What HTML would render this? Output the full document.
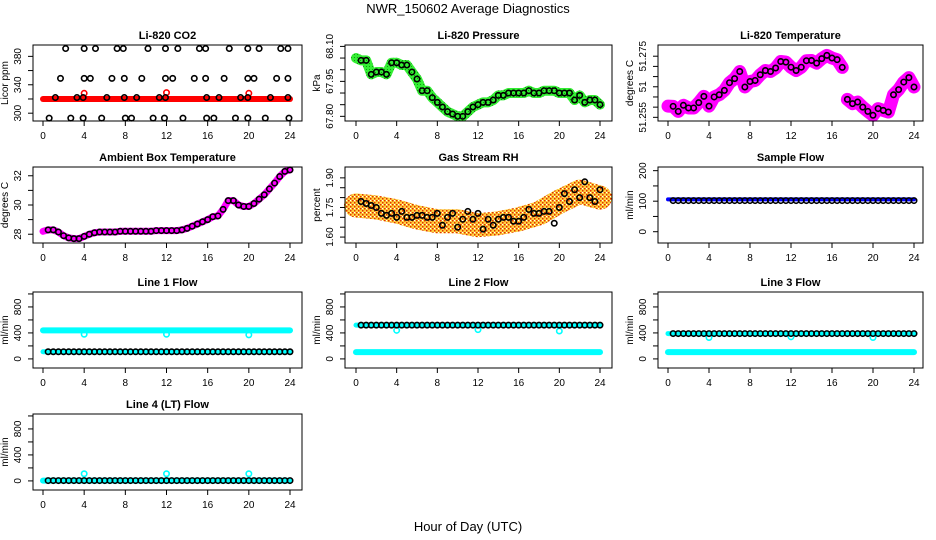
<!DOCTYPE html>
<html><head><meta charset="utf-8"><style>
html,body{margin:0;padding:0;background:#fff;}
svg{display:block;font-family:"Liberation Sans",sans-serif;}
</style></head><body>
<svg id="c" width="936" height="540" viewBox="0 0 936 540">
<defs>
<pattern id="rhpat" width="4" height="4" patternUnits="userSpaceOnUse"><rect width="4" height="4" fill="#ffd040"/><rect x="0" y="0" width="1.5" height="1.5" fill="#e03000"/><rect x="2" y="2" width="1.5" height="1.5" fill="#e03000"/><rect x="2" y="0" width="1" height="1" fill="#fff"/></pattern>
<pattern id="prpat" width="3" height="3" patternUnits="userSpaceOnUse"><rect width="3" height="3" fill="#33ee33"/><rect width="1" height="1" fill="#119911"/></pattern>
</defs>
<text x="468" y="13" text-anchor="middle" font-size="13">NWR_150602  Average Diagnostics</text>
<text x="468" y="531" text-anchor="middle" font-size="13">Hour of Day (UTC)</text>
</svg>
<script>
// ---- data ----
const hours = [];
for (let i = 1; i <= 48; i++) hours.push(i * 0.5);
const xTicks = [0, 4, 8, 12, 16, 20, 24];

const co2Hours = [2.2,4,5.1,7.2,7.8,10.2,11.9,13.1,15.2,15.8,18.1,19.9,21,23.1,23.8,
  1.7,4,4.6,6.7,7.9,9.6,11.9,12.6,14.7,15.8,17.6,19.9,20.5,22.7,23.8,
  1.2,3.3,3.9,6.2,7.9,9.1,11.3,11.9,15.9,17.1,19.2,19.9,22.1,23.8,
  0.6,2.7,3.9,5.7,8,8.6,10.7,11.8,13.6,15.9,16.6,18.7,19.9,21.6,23.9];
const co2Vals = [391,391,391,391,391,391,391,391,391,391,391,391,391,391,391,
  349,349,349,349,349,349,349,349,349,349,349,349,349,349,349,
  322,322,322,322,322,322,322,322,322,322,322,322,322,322,
  293,293,293,293,293,293,293,293,293,293,293,293,293,293,293];
const co2Band = [320,320];
const co2SpikeHours = [4,12,20];
const co2SpikeVals = [328,329,328];

const presVals = [68.04,68.04,67.98,67.99,67.99,67.98,68.03,68.03,68.02,68.02,67.99,67.96,67.91,67.91,67.88,67.86,67.84,67.82,67.81,67.80,67.80,67.82,67.84,67.85,67.86,67.86,67.87,67.89,67.89,67.90,67.90,67.90,67.90,67.91,67.90,67.90,67.91,67.91,67.91,67.90,67.90,67.90,67.87,67.89,67.86,67.87,67.87,67.85];

const tempVals = [51.2554,51.2529,51.2559,51.2546,51.2546,51.2572,51.2603,51.2555,51.2600,51.2611,51.2632,51.2670,51.2690,51.2725,51.2649,51.2676,51.2681,51.2709,51.2730,51.2725,51.2742,51.2774,51.2771,51.2746,51.2730,51.2746,51.2778,51.2779,51.2766,51.2788,51.2804,51.2791,51.2783,51.2745,51.2588,51.2567,51.2575,51.2550,51.2529,51.2510,51.2543,51.2534,51.2526,51.2611,51.2636,51.2673,51.2695,51.2649];

const ambVals = [28.3,28.3,28.15,27.9,27.75,27.7,27.7,27.85,28.0,28.1,28.15,28.15,28.15,28.15,28.2,28.2,28.2,28.2,28.2,28.2,28.2,28.25,28.25,28.25,28.25,28.25,28.3,28.4,28.55,28.7,28.85,29.0,29.2,29.25,29.7,30.3,30.3,30.0,29.9,29.9,30.1,30.4,30.7,31.1,31.5,31.95,32.3,32.4];

const rhVals = [1.78,1.77,1.76,1.75,1.72,1.71,1.72,1.70,1.73,1.70,1.70,1.71,1.71,1.70,1.70,1.72,1.66,1.70,1.72,1.65,1.69,1.73,1.69,1.72,1.64,1.69,1.66,1.69,1.70,1.70,1.68,1.68,1.70,1.74,1.72,1.72,1.73,1.73,1.67,1.75,1.82,1.78,1.84,1.80,1.88,1.80,1.78,1.84];
const rhBandHours = [0,2,4,6,8,10,12,14,16,18,20,22,24];
const rhBandVals = [1.76,1.75,1.73,1.70,1.68,1.68,1.66,1.67,1.69,1.72,1.78,1.83,1.80];

const sampleBlack = 102, sampleBlue = 106;
const line1Cyan = 440, line1Black = 110, line1Dips = [380,380,370];
const line2Black = 520, line2Cyan = 105, line2Dips = [440,450,430];
const line3Black = 390, line3Cyan = 105, line3Dips = [330,340,330];
const line4Black = 5, line4Cyan = 5, line4Spikes = [110,110,110];
const dipHours = [4,12,20];

// ---- layout ----
const svg = document.getElementById('c');
const NS = 'http://www.w3.org/2000/svg';
const cols = [{l:33,r:302,x0:43,x24:290},{l:345,r:612,x0:356,x24:600},{l:658,r:923,x0:668,x24:914}];
const rowsTop = [45,167,292,414];
const H = 76;
function el(tag, attrs, parent){const e=document.createElementNS(NS,tag);for(const k in attrs)e.setAttribute(k,attrs[k]);(parent||svg).appendChild(e);return e;}

function panel(ci, ri, o){
  const c = cols[ci], top = rowsTop[ri], bot = top + H;
  const g = el('g', {});
  
  
  const fx = h => c.x0 + (c.x24 - c.x0) * h / 24;
  const fy = v => bot - (v - o.ymin) / (o.ymax - o.ymin) * H;
  const t = el('text', {x:(c.l+c.r)/2, y:top-6, 'text-anchor':'middle','font-size':11,'font-weight':'bold'}, g);
  t.textContent = o.title;
  
  
  const plot = el('g', {}, g);
  
  
  o.draw(fx, fy, plot);
  el('rect', {x:c.l, y:top, width:c.r-c.l, height:H, fill:'none', stroke:'#000','stroke-width':1}, g);
  const xa = el('g', {}, g);
  
  
  xTicks.forEach(h => {
    el('line', {x1:fx(h), x2:fx(h), y1:bot, y2:bot+5, stroke:'#000'}, xa);
    const tx = el('text', {x:fx(h), y:bot+18, 'text-anchor':'middle','font-size':10}, xa);
    tx.textContent = h;
  });
  const ya = el('g', {}, g);
  
  
  o.yticks.forEach((v, i) => {
    el('line', {x1:c.l, x2:c.l-5, y1:fy(v), y2:fy(v), stroke:'#000'}, ya);
    if (o.ylabels[i]) {
      const ty = el('text', {x:c.l-12, y:fy(v), 'text-anchor':'middle','font-size':10, transform:`rotate(-90 ${c.l-12} ${fy(v)})`}, ya);
      ty.textContent = o.ylabels[i];
    }
  });
  const yt = el('text', {x:c.l-25, y:(top+bot)/2, 'text-anchor':'middle','font-size':10, transform:`rotate(-90 ${c.l-25} ${(top+bot)/2})`}, g);
  yt.textContent = o.ylab;
  
  
}
function circ(g, x, y, col){ el('circle', {cx:x, cy:y, r:2.7, fill:'none', stroke:col||'#000','stroke-width':1.6}, g); }
function band(g, pts, col, w){ el('polyline', {points:pts.map(p=>p.join(',')).join(' '), fill:'none', stroke:col,'stroke-width':w,'stroke-linecap':'round','stroke-linejoin':'round'}, g); }

panel(0,0,{name:'co2',title:'Li-820 CO2',ylab:'Licor ppm',ymin:289,ymax:396,yticks:[300,320,340,360,380],ylabels:['300','','340','','380'],
  draw:(fx,fy,g)=>{
    band(g,[[fx(0),fy(co2Band[0])],[fx(24),fy(co2Band[1])]],'#ff0000',6);
    co2SpikeHours.forEach((h,i)=>circ(g,fx(h),fy(co2SpikeVals[i]),'#ff0000'));
    co2Hours.forEach((h,i)=>circ(g,fx(h),fy(co2Vals[i])));
  }});
panel(1,0,{name:'pressure',title:'Li-820 Pressure',ylab:'kPa',ymin:67.78,ymax:68.106,yticks:[67.80,67.85,67.90,67.95,68.00,68.05,68.10],ylabels:['67.80','','','67.95','','','68.10'],
  draw:(fx,fy,g)=>{
    band(g,[[fx(0),fy(68.05)]].concat(hours.map((h,i)=>[fx(h),fy(presVals[i])])),'url(#prpat)',10);
    hours.forEach((h,i)=>circ(g,fx(h),fy(presVals[i])));
  }});
panel(2,0,{name:'temperature',title:'Li-820 Temperature',ylab:'degrees C',ymin:51.2482,ymax:51.2855,yticks:[51.25,51.255,51.26,51.265,51.27,51.275,51.28],ylabels:['51.255','','','51','','','51.275'],
  draw:(fx,fy,g)=>{
    const a=hours.slice(0,34).map((h,i)=>[fx(h),fy(tempVals[i])]);
    const b=hours.slice(34).map((h,i)=>[fx(h),fy(tempVals[i+34])]);
    band(g,[[fx(0),fy(51.2555)]].concat(a),'#ff00ff',13);
    band(g,b,'#ff00ff',13);
    hours.forEach((h,i)=>circ(g,fx(h),fy(tempVals[i])));
  }});
panel(0,1,{name:'ambient-temp',title:'Ambient Box Temperature',ylab:'degrees C',ymin:27.4,ymax:32.6,yticks:[28,29,30,31,32],ylabels:['28','','30','','32'],
  draw:(fx,fy,g)=>{
    band(g,[[fx(0),fy(28.2)]].concat(hours.map((h,i)=>[fx(h),fy(ambVals[i])])),'#ff00ff',7);
    hours.forEach((h,i)=>circ(g,fx(h),fy(ambVals[i])));
  }});
panel(1,1,{name:'rh',title:'Gas Stream RH',ylab:'percent',ymin:1.57,ymax:1.955,yticks:[1.60,1.65,1.70,1.75,1.80,1.85,1.90],ylabels:['1.60','','','1.75','','','1.90'],
  draw:(fx,fy,g)=>{
    band(g,rhBandHours.map((h,i)=>[fx(h),fy(rhBandVals[i])]),'url(#rhpat)',24);
    hours.forEach((h,i)=>circ(g,fx(h),fy(rhVals[i])));
  }});
panel(2,1,{name:'sample-flow',title:'Sample Flow',ylab:'ml/min',ymin:-37,ymax:212,yticks:[0,50,100,150,200],ylabels:['0','','100','','200'],
  draw:(fx,fy,g)=>{
    band(g,[[fx(0),fy(sampleBlue)],[fx(24),fy(sampleBlue)]],'#0000ff',4);
    hours.forEach(h=>circ(g,fx(h),fy(sampleBlack)));
  }});
const flowTicks=[0,200,400,600,800,1000], flowLabs=['0','','400','','800',''];
function flowPanel(ci,ri,name,title,blackV,cyanV,dips){
  panel(ci,ri,{name:name,title:title,ylab:'ml/min',ymin:-140,ymax:1030,yticks:flowTicks,ylabels:flowLabs,
    draw:(fx,fy,g)=>{
      band(g,[[fx(0),fy(cyanV)],[fx(24),fy(cyanV)]],'#00ffff',6);
      band(g,[[fx(0),fy(blackV)],[fx(24),fy(blackV)]],'#00ffff',5);
      dipHours.forEach((h,i)=>circ(g,fx(h),fy(dips[i]),'#00ffff'));
      hours.forEach(h=>circ(g,fx(h),fy(blackV)));
    }});
}
flowPanel(0,2,'line1-flow','Line 1 Flow',line1Black,line1Cyan,line1Dips);
flowPanel(1,2,'line2-flow','Line 2 Flow',line2Black,line2Cyan,line2Dips);
flowPanel(2,2,'line3-flow','Line 3 Flow',line3Black,line3Cyan,line3Dips);
flowPanel(0,3,'line4-flow','Line 4 (LT) Flow',line4Black,line4Cyan,line4Spikes);
</script>
</body></html>
